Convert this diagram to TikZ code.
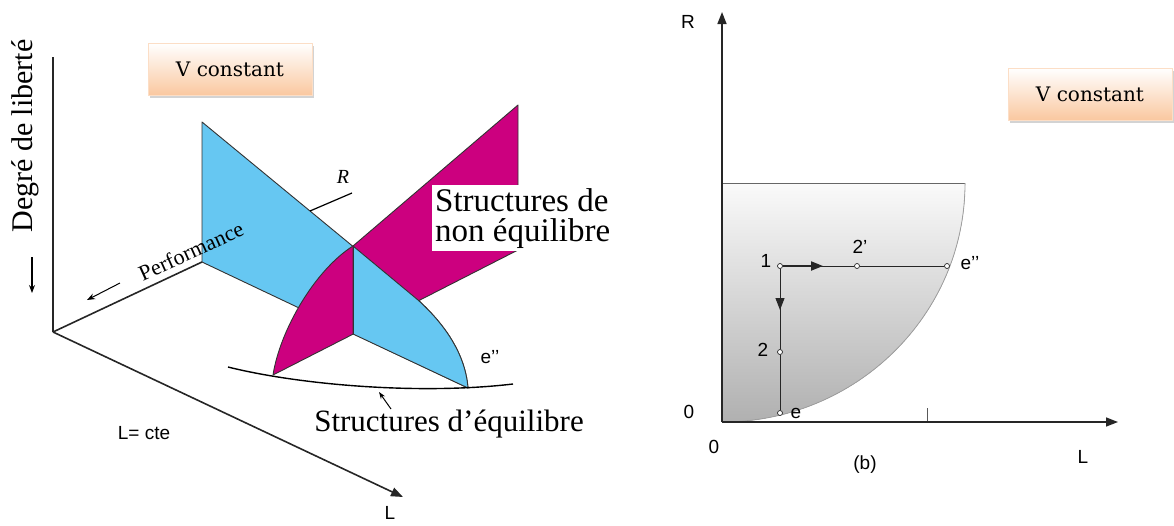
\documentclass[tikz,border=0pt]{standalone}
\usepackage{fontspec}
\setmainfont{Liberation Serif}
\setsansfont{Liberation Sans}
\newfontfamily\boxfont{DejaVu Serif}
\usetikzlibrary{arrows.meta, positioning, shadows}

\definecolor{planeblue}{RGB}{102,199,242}
\definecolor{planemagenta}{RGB}{204,0,127}
\definecolor{peach}{RGB}{250,200,160}

\begin{document}
\begin{tikzpicture}[
    x=1pt, y=-1pt,
    axis/.style={line width=1.5pt, draw=black!85, -{Triangle[length=12pt,width=9pt]}},
    plane/.style={draw=black!80, line width=0.9pt, line join=round},
    vbox/.style={rectangle, minimum width=164pt, minimum height=52pt, top color=white, bottom color=peach, draw=peach!60, font=\boxfont\fontsize{20}{22}\selectfont, drop shadow={opacity=0.35, shadow xshift=2pt, shadow yshift=-3pt}},
    biglabel/.style={font=\fontsize{30}{31}\selectfont, inner sep=2pt},
    smalllabel/.style={font=\sffamily\fontsize{19}{21}\selectfont, inner sep=1pt},
    pt/.style={circle, draw=black!85, fill=white, line width=0.7pt, inner sep=0pt, minimum size=5pt},
]
\useasboundingbox (0,0) rectangle (1174,525);

% ---------------- left: 3D view ----------------
\node (vleft) [vbox] at (230,69) {V constant};

\coordinate (origin) at (53,332);
\coordinate (degtop) at (53,57);
\coordinate (ltip) at (403,497);

% planes
\coordinate (btop) at (202,122);
\coordinate (bbot) at (202,262);
\coordinate (bcorner) at (418,300);
\coordinate (bfoot) at (468,388);
\coordinate (xtop) at (353,246);
\coordinate (xbot) at (353,334);
\coordinate (mtop) at (518,105);
\coordinate (mright) at (518,250);
\coordinate (mfoot) at (273,375);

\filldraw [plane, fill=planeblue] (btop) -- (bcorner) .. controls (440,320) and (465,350) .. (bfoot) -- (bbot) -- cycle;
\filldraw [plane, fill=planemagenta] (mfoot) .. controls (280,330) and (315,270) .. (xtop) -- (mtop) -- (mright) -- cycle;
\filldraw [plane, fill=planeblue] (xtop) -- (bcorner) .. controls (440,320) and (465,350) .. (bfoot) -- (xbot) -- cycle;
\draw [plane] (xtop) -- (xbot);

% axes
\draw [line width=1.6pt, black!85] (origin) -- (degtop);
\draw [line width=1.6pt, black!85] (origin) -- (bbot);
\draw [axis, line width=1.6pt] (origin) -- (ltip);

\node (degre) [biglabel, rotate=90] at (25,136) {Degré de liberté};
\coordinate (dega) at (32,257);
\coordinate (degb) at (32,293);
\draw [line width=1.2pt, -{Stealth[length=8pt,width=6pt]}] (dega) -- (degb);

\node (perf) [font=\fontsize{22}{24}\selectfont, rotate=24.4, inner sep=0pt] at (191,251) {Performance};
\coordinate (perfa) at (120,283);
\coordinate (perfb) at (87,300);
\draw [line width=1pt, -{Stealth[length=8pt,width=6pt]}] (perfa) -- (perfb);

% R
\coordinate (rfoot) at (310,211);
\coordinate (rtip) at (352,193);
\draw [line width=1.2pt] (rfoot) -- (rtip);
\node (rlab) [font=\itshape\fontsize{20}{22}\selectfont, inner sep=0pt] at (343,177) {R};

% non equilibrium label
\node (nonequ) [font=\fontsize{33}{30}\selectfont, fill=white, align=left, anchor=north west, inner sep=3pt] at (432,185) {Structures de\\non équilibre};

% equilibrium curve
\coordinate (cleft) at (228,367);
\coordinate (cright) at (513,384);
\draw [line width=1.4pt] (cleft) .. controls (300,385) and (420,395) .. (cright);
\coordinate (equa) at (391,409);
\coordinate (equb) at (379,392);
\draw [line width=1pt, -{Stealth[length=7pt,width=5pt]}] (equa) -- (equb);
\node (equ) [biglabel, font=\fontsize{31}{32}\selectfont] at (449,424) {Structures d'équilibre};

\node (eleft) [smalllabel] at (490,357) {e’’};
\node (lcte) [smalllabel] at (144,433) {L= cte};
\node (laxis) [smalllabel] at (390,513) {L};

% ---------------- right: (b) ----------------
\node (vright) [vbox] at (1090,94) {V constant};

\coordinate (o) at (722,422);
\coordinate (rtop) at (722,12);
\coordinate (lend) at (1118,422);
\coordinate (gtop) at (965,183);
\coordinate (gleft) at (722,183);

\fill [top color=gray!4, bottom color=gray!62] (gleft) -- (gtop) .. controls (965,315) and (856,422) .. (o) -- cycle;
\draw [line width=1pt, gray!80!black] (gleft) -- (gtop);
\draw [line width=0.8pt, gray!75] (gtop) .. controls (965,315) and (856,422) .. (o);

\draw [axis] (o) -- (rtop);
\draw [axis] (o) -- (lend);
\coordinate (ticka) at (927,408);
\coordinate (tickb) at (927,421);
\draw [line width=0.8pt, gray!70!black] (ticka) -- (tickb);

\node (p1) [pt] at (780,266) {};
\node (p2b) [pt] at (857,266) {};
\node (pee) [pt] at (947,266) {};
\node (p2) [pt] at (780,352) {};
\node (pe) [pt] at (780,413) {};
\coordinate (harr) at (823,266);
\coordinate (varr) at (780,310);

\draw [line width=1pt, black!85] (p1) -- (p2b) -- (pee);
\draw [line width=1pt, black!85] (p1) -- (p2) -- (pe);
\draw [line width=2pt, black!85, -{Triangle[length=12pt,width=9pt]}] (p1) -- (harr);
\draw [line width=1pt, black!85, -{Triangle[length=12pt,width=9pt]}] (p1) -- (varr);

\node (lr) [smalllabel] at (688,22) {R};
\node (l1) [smalllabel] at (766,261) {1};
\node (l2b) [smalllabel] at (860,247) {2’};
\node (lee) [smalllabel] at (970,263) {e’’};
\node (l2) [smalllabel] at (763,350) {2};
\node (le) [smalllabel] at (796,413) {e};
\node (l0a) [smalllabel] at (689,412) {0};
\node (l0b) [smalllabel] at (714,447) {0};
\node (lb) [smalllabel] at (865,465) {(b)};
\node (ll) [smalllabel] at (1083,457) {L};

\end{tikzpicture}
\end{document}
